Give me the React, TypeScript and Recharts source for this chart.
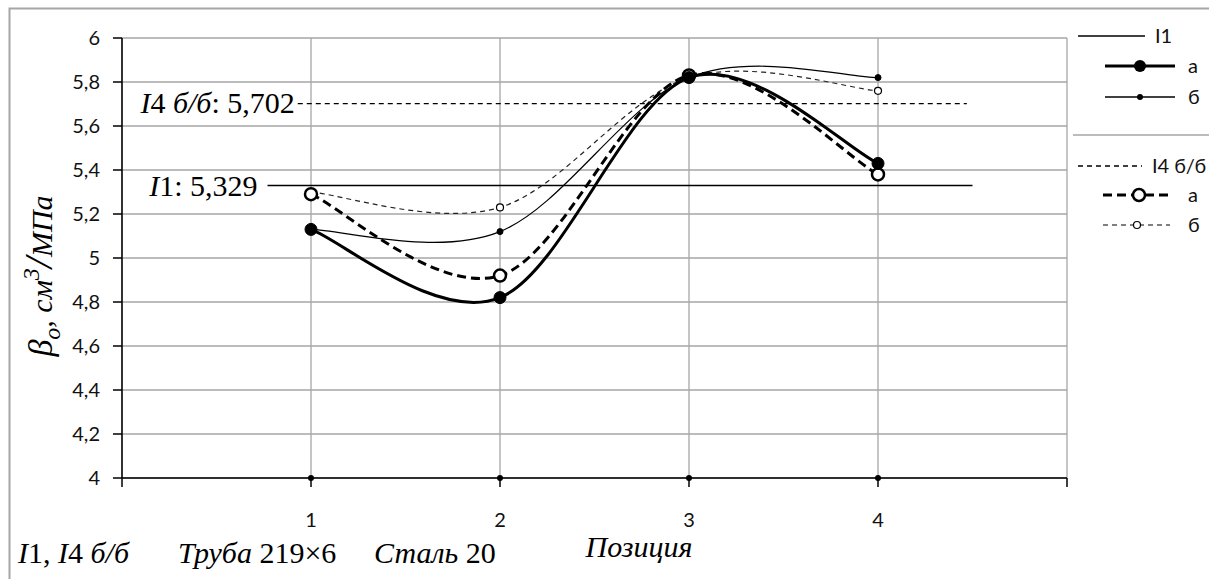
import React from 'react';
import { LineChart, Line, XAxis, YAxis, CartesianGrid, ReferenceLine } from 'recharts';

// ---- data ----
const POSITIONS = [1, 2, 3, 4];
const I1_A = [5.13, 4.82, 5.82, 5.43];
const I1_B = [5.13, 5.12, 5.82, 5.82];
const I4_A = [5.29, 4.92, 5.83, 5.38];
const I4_B = [5.3, 5.23, 5.82, 5.76];
const X_TICKS = [0, 1, 2, 3, 4, 5];
const Y_TICKS = [4, 4.2, 4.4, 4.6, 4.8, 5, 5.2, 5.4, 5.6, 5.8, 6];
const I1_REF = 5.329;
const I4_REF = 5.702;
const I1_REF_SPAN = [0.77, 4.5];
const I4_REF_SPAN = [0.93, 4.47];

const data = POSITIONS.map((p, i) => ({ pos: p, i1a: I1_A[i], i1b: I1_B[i], i4a: I4_A[i], i4b: I4_B[i] }));

const SERIF = '"Liberation Serif", "Times New Roman", serif';
const SANS = 'Lato, "Noto Sans", sans-serif';
const GRID = '#a6a6a6';
const X_TICK_SIZE = 9;
const X_TICK_MARGIN = 26;

const fmt = (v: number) => String(Number(v.toFixed(3))).replace('.', ',');

// Excel-like smoothing (Catmull-Rom with 1/6 tangents)
function excelCurve(context: any) {
  let pts: number[][] = [];
  return {
    areaStart() {},
    areaEnd() {},
    lineStart() {
      pts = [];
    },
    lineEnd() {
      const n = pts.length;
      if (!n) return;
      context.moveTo(pts[0][0], pts[0][1]);
      for (let i = 0; i < n - 1; i++) {
        const p0 = pts[Math.max(i - 1, 0)];
        const p1 = pts[i];
        const p2 = pts[i + 1];
        const p3 = pts[Math.min(i + 2, n - 1)];
        context.bezierCurveTo(
          p1[0] + (p2[0] - p0[0]) / 6,
          p1[1] + (p2[1] - p0[1]) / 6,
          p2[0] - (p3[0] - p1[0]) / 6,
          p2[1] - (p3[1] - p1[1]) / 6,
          p2[0],
          p2[1]
        );
      }
    },
    point(x: number, y: number) {
      pts.push([+x, +y]);
    },
  };
}

const XTick = (props: any) => {
  const { x, y, payload } = props;
  const v = payload.value;
  const show = v >= 1 && v <= 4;
  const axisY = y - X_TICK_SIZE - X_TICK_MARGIN;
  return (
    <g>
      {show && <circle cx={x} cy={axisY} r={3} fill="#000" />}
      {show && (
        <text x={x} y={y} dy="0.71em" textAnchor="middle" fontFamily={SANS} fontSize={20} fill="#111">
          {v}
        </text>
      )}
    </g>
  );
};

const I1Label = (props: any) => {
  const vb = props.viewBox || {};
  return (
    <text x={vb.x - 10} y={vb.y} dy="0.33em" textAnchor="end" fontFamily={SERIF} fontSize={30} fill="#000">
      <tspan fontStyle="italic">I</tspan>
      <tspan>1: {fmt(I1_REF)}</tspan>
    </text>
  );
};

const I4Label = (props: any) => {
  const vb = props.viewBox || {};
  return (
    <text x={vb.x - 3} y={vb.y} dy="0.33em" textAnchor="end" fontFamily={SERIF} fontSize={30} fill="#000">
      <tspan fontStyle="italic">I</tspan>
      <tspan>4 </tspan>
      <tspan fontStyle="italic">б/б</tspan>
      <tspan>: {fmt(I4_REF)}</tspan>
    </text>
  );
};

const Legend = () => (
  <g fontFamily={SANS} fontSize={20} fill="#111">
    <line x1={1078} x2={1145} y1={36} y2={36} stroke="#000" strokeWidth={1.3} />
    <text x={1155} y={36} dy="0.35em">I1</text>
    <line x1={1105} x2={1175} y1={66} y2={66} stroke="#000" strokeWidth={3} />
    <circle cx={1140} cy={66} r={6} fill="#000" />
    <text x={1188} y={66} dy="0.35em">а</text>
    <line x1={1105} x2={1175} y1={97} y2={97} stroke="#000" strokeWidth={1.3} />
    <circle cx={1140} cy={97} r={3} fill="#000" />
    <text x={1188} y={97} dy="0.35em">б</text>
    <line x1={1073} x2={1209} y1={135} y2={135} stroke={GRID} strokeWidth={1.5} />
    <line x1={1078} x2={1142} y1={166} y2={166} stroke="#000" strokeWidth={1.3} strokeDasharray="5 4" />
    <text x={1152} y={166} dy="0.35em">I4 б/б</text>
    <line x1={1103} x2={1173} y1={195} y2={195} stroke="#000" strokeWidth={3} strokeDasharray="9 5" />
    <circle cx={1139} cy={195} r={6} fill="#fff" stroke="#000" strokeWidth={2.5} />
    <text x={1188} y={195} dy="0.35em">а</text>
    <line x1={1103} x2={1170} y1={225} y2={225} stroke="#000" strokeWidth={1.2} strokeDasharray="5 4" />
    <circle cx={1137} cy={225} r={3.5} fill="#fff" stroke="#000" strokeWidth={1.2} />
    <text x={1188} y={225} dy="0.35em">б</text>
  </g>
);

export default function App() {
  return (
    <div style={{ position: 'absolute', left: 0, top: 0, width: 1209, height: 579, overflow: 'hidden', background: '#fff' }}>
      <div style={{ position: 'absolute', left: 0, top: 0 }}>
        <LineChart width={1209} height={579} data={data} margin={{ top: 38, right: 142, left: 0, bottom: 61 }}>
          <CartesianGrid stroke={GRID} strokeWidth={1.3} />
          <XAxis
            type="number"
            dataKey="pos"
            domain={[0, 5]}
            ticks={X_TICKS}
            interval={0}
            height={40}
            tickSize={X_TICK_SIZE}
            tickMargin={X_TICK_MARGIN}
            axisLine={{ stroke: '#000', strokeWidth: 1.5 }}
            tickLine={{ stroke: '#000', strokeWidth: 1.5 }}
            tick={<XTick />}
          />
          <YAxis
            type="number"
            domain={[4, 6]}
            ticks={Y_TICKS}
            interval={0}
            width={122}
            tickSize={9}
            tickMargin={13}
            axisLine={{ stroke: '#000', strokeWidth: 1.5 }}
            tickLine={{ stroke: '#000', strokeWidth: 1.5 }}
            tick={{ fontFamily: SANS, fontSize: 20, fill: '#111' }}
            tickFormatter={(v: number) => fmt(v)}
          />
          <ReferenceLine
            segment={[{ x: I1_REF_SPAN[0], y: I1_REF }, { x: I1_REF_SPAN[1], y: I1_REF }]}
            stroke="#000"
            strokeWidth={1.5}
            label={I1Label}
          />
          <ReferenceLine
            segment={[{ x: I4_REF_SPAN[0], y: I4_REF }, { x: I4_REF_SPAN[1], y: I4_REF }]}
            stroke="#000"
            strokeWidth={1.2}
            strokeDasharray="5 4"
            label={I4Label}
          />
          <Line
            dataKey="i4b"
            type={excelCurve as any}
            stroke="#222"
            strokeWidth={1.2}
            strokeDasharray="5 4"
            dot={{ r: 3.5, fill: '#fff', stroke: '#000', strokeWidth: 1.2, strokeDasharray: 'none' }}
            activeDot={false}
            isAnimationActive={false}
          />
          <Line
            dataKey="i1b"
            type={excelCurve as any}
            stroke="#000"
            strokeWidth={1.2}
            dot={{ r: 3, fill: '#000', stroke: '#000', strokeWidth: 1 }}
            activeDot={false}
            isAnimationActive={false}
          />
          <Line
            dataKey="i4a"
            type={excelCurve as any}
            stroke="#000"
            strokeWidth={3}
            strokeDasharray="9 5"
            dot={{ r: 6, fill: '#fff', stroke: '#000', strokeWidth: 2.5, strokeDasharray: 'none' }}
            activeDot={false}
            isAnimationActive={false}
          />
          <Line
            dataKey="i1a"
            type={excelCurve as any}
            stroke="#000"
            strokeWidth={3}
            dot={{ r: 6, fill: '#000', stroke: '#000', strokeWidth: 1 }}
            activeDot={false}
            isAnimationActive={false}
          />
        </LineChart>
      </div>
      <svg width={1209} height={579} style={{ position: 'absolute', left: 0, top: 0, pointerEvents: 'none' }}>
        <path d="M9.5 579 V8.5 H1209" fill="none" stroke={GRID} strokeWidth={2} />
        <Legend />
        <text transform="translate(52,276) rotate(-90)" textAnchor="middle" fontFamily={SERIF} fontStyle="italic" fill="#000">
          <tspan fontSize={34}>β</tspan>
          <tspan fontSize={24} dy={8}>o</tspan>
          <tspan fontSize={30} dy={-8}>, см</tspan>
          <tspan fontSize={24} dy={-13}>3</tspan>
          <tspan fontSize={40} dy={13}>/</tspan>
          <tspan fontSize={30}>МПа</tspan>
        </text>
        <g fontFamily={SERIF} fontSize={30} fill="#000">
          <text x={18} y={553} dy="0.33em">
            <tspan fontStyle="italic">I</tspan>
            <tspan>1, </tspan>
            <tspan fontStyle="italic">I</tspan>
            <tspan>4 </tspan>
            <tspan fontStyle="italic">б/б</tspan>
          </text>
          <text x={178} y={553} dy="0.33em">
            <tspan fontStyle="italic">Труба </tspan>
            <tspan>219×6</tspan>
          </text>
          <text x={374} y={553} dy="0.33em">
            <tspan fontStyle="italic">Сталь </tspan>
            <tspan>20</tspan>
          </text>
          <text x={639} y={547} dy="0.33em" textAnchor="middle" fontStyle="italic">
            Позиция
          </text>
        </g>
      </svg>
    </div>
  );
}
